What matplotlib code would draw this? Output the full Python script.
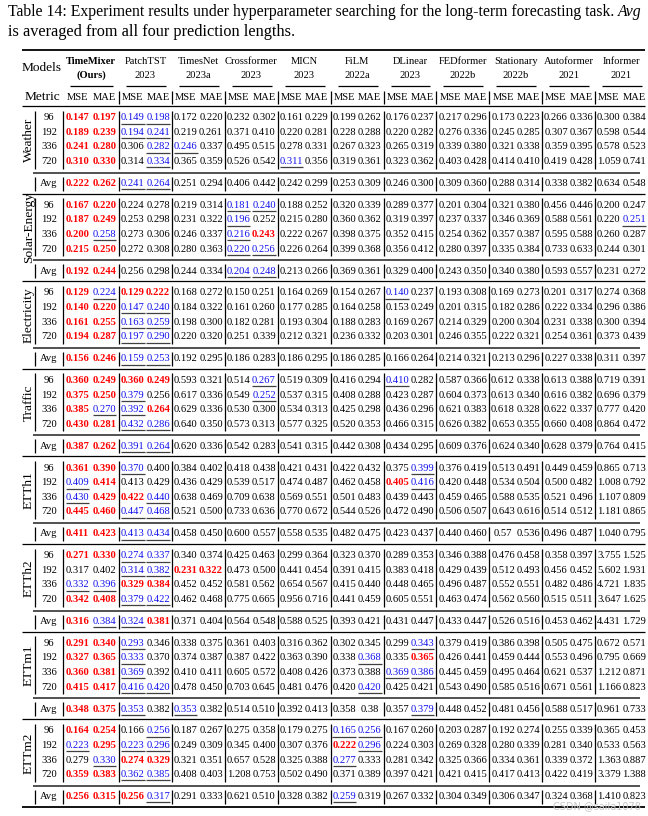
import matplotlib.pyplot as plt

plt.rcParams["font.family"] = ["Liberation Serif", "DejaVu Serif"]

# header
models = ["TimeMixer", "PatchTST", "TimesNet", "Crossformer", "MICN", "FiLM",
          "DLinear", "FEDformer", "Stationary", "Autoformer", "Informer"]
years = ["(Ours)", "2023", "2023a", "2023", "2023", "2022a", "2023", "2022b",
         "2022b", "2021", "2021"]
horizons = ["96", "192", "336", "720", "Avg"]
datasets = ["Weather", "Solar-Energy", "Electricity", "Traffic",
            "ETTh1", "ETTh2", "ETTm1", "ETTm2"]

# values: one string per row (MSE MAE for each model), last row = Avg
weather = [
    "0.147 0.197 0.149 0.198 0.172 0.220 0.232 0.302 0.161 0.229 0.199 0.262 0.176 0.237 0.217 0.296 0.173 0.223 0.266 0.336 0.300 0.384",
    "0.189 0.239 0.194 0.241 0.219 0.261 0.371 0.410 0.220 0.281 0.228 0.288 0.220 0.282 0.276 0.336 0.245 0.285 0.307 0.367 0.598 0.544",
    "0.241 0.280 0.306 0.282 0.246 0.337 0.495 0.515 0.278 0.331 0.267 0.323 0.265 0.319 0.339 0.380 0.321 0.338 0.359 0.395 0.578 0.523",
    "0.310 0.330 0.314 0.334 0.365 0.359 0.526 0.542 0.311 0.356 0.319 0.361 0.323 0.362 0.403 0.428 0.414 0.410 0.419 0.428 1.059 0.741",
    "0.222 0.262 0.241 0.264 0.251 0.294 0.406 0.442 0.242 0.299 0.253 0.309 0.246 0.300 0.309 0.360 0.288 0.314 0.338 0.382 0.634 0.548",
]
solar = [
    "0.167 0.220 0.224 0.278 0.219 0.314 0.181 0.240 0.188 0.252 0.320 0.339 0.289 0.377 0.201 0.304 0.321 0.380 0.456 0.446 0.200 0.247",
    "0.187 0.249 0.253 0.298 0.231 0.322 0.196 0.252 0.215 0.280 0.360 0.362 0.319 0.397 0.237 0.337 0.346 0.369 0.588 0.561 0.220 0.251",
    "0.200 0.258 0.273 0.306 0.246 0.337 0.216 0.243 0.222 0.267 0.398 0.375 0.352 0.415 0.254 0.362 0.357 0.387 0.595 0.588 0.260 0.287",
    "0.215 0.250 0.272 0.308 0.280 0.363 0.220 0.256 0.226 0.264 0.399 0.368 0.356 0.412 0.280 0.397 0.335 0.384 0.733 0.633 0.244 0.301",
    "0.192 0.244 0.256 0.298 0.244 0.334 0.204 0.248 0.213 0.266 0.369 0.361 0.329 0.400 0.243 0.350 0.340 0.380 0.593 0.557 0.231 0.272",
]
electricity = [
    "0.129 0.224 0.129 0.222 0.168 0.272 0.150 0.251 0.164 0.269 0.154 0.267 0.140 0.237 0.193 0.308 0.169 0.273 0.201 0.317 0.274 0.368",
    "0.140 0.220 0.147 0.240 0.184 0.322 0.161 0.260 0.177 0.285 0.164 0.258 0.153 0.249 0.201 0.315 0.182 0.286 0.222 0.334 0.296 0.386",
    "0.161 0.255 0.163 0.259 0.198 0.300 0.182 0.281 0.193 0.304 0.188 0.283 0.169 0.267 0.214 0.329 0.200 0.304 0.231 0.338 0.300 0.394",
    "0.194 0.287 0.197 0.290 0.220 0.320 0.251 0.339 0.212 0.321 0.236 0.332 0.203 0.301 0.246 0.355 0.222 0.321 0.254 0.361 0.373 0.439",
    "0.156 0.246 0.159 0.253 0.192 0.295 0.186 0.283 0.186 0.295 0.186 0.285 0.166 0.264 0.214 0.321 0.213 0.296 0.227 0.338 0.311 0.397",
]
traffic = [
    "0.360 0.249 0.360 0.249 0.593 0.321 0.514 0.267 0.519 0.309 0.416 0.294 0.410 0.282 0.587 0.366 0.612 0.338 0.613 0.388 0.719 0.391",
    "0.375 0.250 0.379 0.256 0.617 0.336 0.549 0.252 0.537 0.315 0.408 0.288 0.423 0.287 0.604 0.373 0.613 0.340 0.616 0.382 0.696 0.379",
    "0.385 0.270 0.392 0.264 0.629 0.336 0.530 0.300 0.534 0.313 0.425 0.298 0.436 0.296 0.621 0.383 0.618 0.328 0.622 0.337 0.777 0.420",
    "0.430 0.281 0.432 0.286 0.640 0.350 0.573 0.313 0.577 0.325 0.520 0.353 0.466 0.315 0.626 0.382 0.653 0.355 0.660 0.408 0.864 0.472",
    "0.387 0.262 0.391 0.264 0.620 0.336 0.542 0.283 0.541 0.315 0.442 0.308 0.434 0.295 0.609 0.376 0.624 0.340 0.628 0.379 0.764 0.415",
]
etth1 = [
    "0.361 0.390 0.370 0.400 0.384 0.402 0.418 0.438 0.421 0.431 0.422 0.432 0.375 0.399 0.376 0.419 0.513 0.491 0.449 0.459 0.865 0.713",
    "0.409 0.414 0.413 0.429 0.436 0.429 0.539 0.517 0.474 0.487 0.462 0.458 0.405 0.416 0.420 0.448 0.534 0.504 0.500 0.482 1.008 0.792",
    "0.430 0.429 0.422 0.440 0.638 0.469 0.709 0.638 0.569 0.551 0.501 0.483 0.439 0.443 0.459 0.465 0.588 0.535 0.521 0.496 1.107 0.809",
    "0.445 0.460 0.447 0.468 0.521 0.500 0.733 0.636 0.770 0.672 0.544 0.526 0.472 0.490 0.506 0.507 0.643 0.616 0.514 0.512 1.181 0.865",
    "0.411 0.423 0.413 0.434 0.458 0.450 0.600 0.557 0.558 0.535 0.482 0.475 0.423 0.437 0.440 0.460 0.57 0.536 0.496 0.487 1.040 0.795",
]
etth2 = [
    "0.271 0.330 0.274 0.337 0.340 0.374 0.425 0.463 0.299 0.364 0.323 0.370 0.289 0.353 0.346 0.388 0.476 0.458 0.358 0.397 3.755 1.525",
    "0.317 0.402 0.314 0.382 0.231 0.322 0.473 0.500 0.441 0.454 0.391 0.415 0.383 0.418 0.429 0.439 0.512 0.493 0.456 0.452 5.602 1.931",
    "0.332 0.396 0.329 0.384 0.452 0.452 0.581 0.562 0.654 0.567 0.415 0.440 0.448 0.465 0.496 0.487 0.552 0.551 0.482 0.486 4.721 1.835",
    "0.342 0.408 0.379 0.422 0.462 0.468 0.775 0.665 0.956 0.716 0.441 0.459 0.605 0.551 0.463 0.474 0.562 0.560 0.515 0.511 3.647 1.625",
    "0.316 0.384 0.324 0.381 0.371 0.404 0.564 0.548 0.588 0.525 0.393 0.421 0.431 0.447 0.433 0.447 0.526 0.516 0.453 0.462 4.431 1.729",
]
ettm1 = [
    "0.291 0.340 0.293 0.346 0.338 0.375 0.361 0.403 0.316 0.362 0.302 0.345 0.299 0.343 0.379 0.419 0.386 0.398 0.505 0.475 0.672 0.571",
    "0.327 0.365 0.333 0.370 0.374 0.387 0.387 0.422 0.363 0.390 0.338 0.368 0.335 0.365 0.426 0.441 0.459 0.444 0.553 0.496 0.795 0.669",
    "0.360 0.381 0.369 0.392 0.410 0.411 0.605 0.572 0.408 0.426 0.373 0.388 0.369 0.386 0.445 0.459 0.495 0.464 0.621 0.537 1.212 0.871",
    "0.415 0.417 0.416 0.420 0.478 0.450 0.703 0.645 0.481 0.476 0.420 0.420 0.425 0.421 0.543 0.490 0.585 0.516 0.671 0.561 1.166 0.823",
    "0.348 0.375 0.353 0.382 0.353 0.382 0.514 0.510 0.392 0.413 0.358 0.38 0.357 0.379 0.448 0.452 0.481 0.456 0.588 0.517 0.961 0.733",
]
ettm2 = [
    "0.164 0.254 0.166 0.256 0.187 0.267 0.275 0.358 0.179 0.275 0.165 0.256 0.167 0.260 0.203 0.287 0.192 0.274 0.255 0.339 0.365 0.453",
    "0.223 0.295 0.223 0.296 0.249 0.309 0.345 0.400 0.307 0.376 0.222 0.296 0.224 0.303 0.269 0.328 0.280 0.339 0.281 0.340 0.533 0.563",
    "0.279 0.330 0.274 0.329 0.321 0.351 0.657 0.528 0.325 0.388 0.277 0.333 0.281 0.342 0.325 0.366 0.334 0.361 0.339 0.372 1.363 0.887",
    "0.359 0.383 0.362 0.385 0.408 0.403 1.208 0.753 0.502 0.490 0.371 0.389 0.397 0.421 0.421 0.415 0.417 0.413 0.422 0.419 3.379 1.388",
    "0.256 0.315 0.256 0.317 0.291 0.333 0.621 0.510 0.328 0.382 0.259 0.319 0.267 0.332 0.304 0.349 0.306 0.347 0.324 0.368 1.410 0.823",
]

# highlight codes per cell: r = best (red bold), b = second (blue underline)
weather_hl = ["rr bb", "rr bb", "rr .b b.", "rr .b .. .. b.", "rr bb"]
solar_hl = ["rr .. .. bb", "rr .. .. b. .. .. .. .. .. .. .b", "rb .. .. br",
            "rr .. .. bb", "rr .. .. bb"]
electricity_hl = ["rb rr .. .. .. .. b.", "rr bb", "rr bb", "rr bb", "rr bb"]
traffic_hl = ["rr rr .. .b .. .. b.", "rr b. .. .b", "rb br", "rr bb", "rr bb"]
etth1_hl = ["rr b. .. .. .. .. .b", "br .. .. .. .. .. rb", "br rb", "rr bb", "rr bb"]
etth2_hl = ["rr bb", ".. bb rr", "bb rr", "rr bb", "rb br"]
ettm1_hl = ["rr b. .. .. .. .. .b", "rr b. .. .. .. .b .r", "rr b. .. .. .. .. bb",
            "rr bb .. .. .. .b", "rr b. b. .. .. .. .b"]
ettm2_hl = ["rr .b .. .. .. bb", "br bb .. .. .. rb", ".b rr .. .. .. b.",
            "rr bb", "rr rb .. .. .. b."]

tables = [weather, solar, electricity, traffic, etth1, etth2, ettm1, ettm2]
marks = [weather_hl, solar_hl, electricity_hl, traffic_hl,
         etth1_hl, etth2_hl, ettm1_hl, ettm2_hl]

RED = "#ff0000"
BLUE = "#1010ee"
FS_NUM = 7.6
FS_CAP = 11.7

fig = plt.figure(figsize=(6.48, 8.16), dpi=100)
ax = fig.add_axes([0, 0, 1, 1])
ax.set_xlim(0, 648)
ax.set_ylim(816, 0)
ax.axis("off")

# caption (first line is justified in the paper, so fit it to the text width)
cap1 = ax.text(8, 12, "Table 14: Experiment results under hyperparameter searching "
               "for the long-term forecasting task.", fontsize=FS_CAP, va="center")
avg = ax.text(0, 12, "Avg", fontsize=FS_CAP, style="italic", va="center")
ax.text(8, 32, "is averaged from all four prediction lengths.",
        fontsize=FS_CAP, va="center")
fig.canvas.draw()
r = fig.canvas.get_renderer()
w = cap1.get_window_extent(r).width + avg.get_window_extent(r).width + 4
fs1 = FS_CAP * 636 / w
cap1.set_fontsize(fs1)
avg.set_fontsize(fs1)
fig.canvas.draw()
inv = ax.transData.inverted()
bb = cap1.get_window_extent(r)
x_end = inv.transform((bb.x1, bb.y0))[0]
avg.set_x(x_end + 4)

# column grid
edges = [63] + [119 + 52.9 * k for k in range(11)]
lefts = edges[:-1]
widths = [edges[i + 1] - edges[i] for i in range(11)]
mse_x = [l + 0.26 * w for l, w in zip(lefts, widths)]
mae_x = [l + 0.74 * w for l, w in zip(lefts, widths)]

X0, X1 = 21.5, 645
lw_thick, lw = 1.3, 0.9

ax.hlines(50, X0, X1, color="black", lw=lw_thick)
ax.text(42, 68, "Models", fontsize=9.6, ha="center", va="center")
for i in range(11):
    cx = lefts[i] + widths[i] / 2
    wt = "bold" if i == 0 else "normal"
    ax.text(cx, 61.5, models[i], fontsize=7.6, ha="center", va="center", weight=wt)
    ax.text(cx, 75.5, years[i], fontsize=7.6, ha="center", va="center", weight=wt)
    ax.hlines(86, lefts[i] + 7, edges[i + 1] - 6, color="black", lw=lw)
    ax.text(mse_x[i], 97.5, "MSE", fontsize=7.6, ha="center", va="center")
    ax.text(mae_x[i], 97.5, "MAE", fontsize=7.6, ha="center", va="center")
ax.text(42, 97.5, "Metric", fontsize=9.6, ha="center", va="center")
ax.vlines(edges[1:-1], 91, 104, color="black", lw=lw)
ax.hlines(106, X0, X1, color="black", lw=lw)

blue_texts = []
for k, (name, rows, hl) in enumerate(zip(datasets, tables, marks)):
    b = 117.7 + 87.6 * k
    ys = [b + 14.6 * i for i in range(4)] + [b + 65.8]
    for j, (row, code) in enumerate(zip(rows, hl)):
        vals = row.split()
        code = code.replace(" ", "").ljust(22, ".")
        y = ys[j]
        ax.text(49, y, horizons[j], fontsize=FS_NUM, ha="center", va="center")
        for c, v in enumerate(vals):
            x = mse_x[c // 2] if c % 2 == 0 else mae_x[c // 2]
            if code[c] == "r":
                ax.text(x, y, v, fontsize=FS_NUM, ha="center", va="center",
                        color=RED, weight="bold")
            elif code[c] == "b":
                t = ax.text(x, y, v, fontsize=FS_NUM, ha="center", va="center", color=BLUE)
                blue_texts.append((t, y))
            else:
                ax.text(x, y, v, fontsize=FS_NUM, ha="center", va="center")
    # dataset label and rules
    ax.text(29, b + 22, name, fontsize=9.6, rotation=90, ha="center", va="center")
    ax.vlines([35] + edges[:-1], b - 7, ys[3] + 7, color="black", lw=lw)
    ax.vlines([35] + edges[:-1], ys[4] - 7, ys[4] + 7, color="black", lw=lw)
    ax.hlines(b + 55, 33, 640, color="#333333", lw=1.2)
    ax.hlines(b + 76, X0, X1, color="black", lw=lw_thick if k == 7 else lw)

# underline the second-best values
fig.canvas.draw()
r = fig.canvas.get_renderer()
inv = ax.transData.inverted()
for t, y in blue_texts:
    bb = t.get_window_extent(r)
    xa = inv.transform((bb.x0, bb.y0))[0]
    xb = inv.transform((bb.x1, bb.y0))[0]
    ax.hlines(y + 5.8, xa, xb, color="#404040", lw=0.9)

ax.text(641, 806, "CSDN @saila1078", fontsize=7, color="#c8c8c8",
        ha="right", va="center", family="DejaVu Sans")

fig.savefig("out.png", dpi=100)
